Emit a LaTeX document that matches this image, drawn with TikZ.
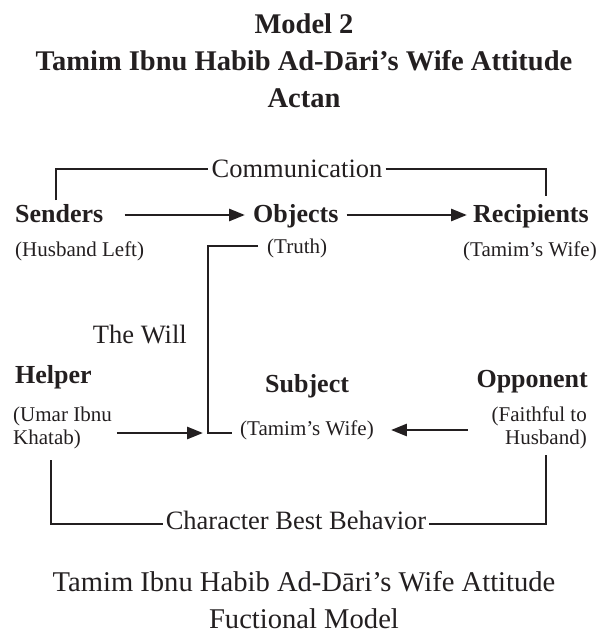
\documentclass[tikz,border=0pt]{standalone}
\usepackage{fontspec}
\setmainfont{Liberation Serif}
\usetikzlibrary{arrows.meta, positioning}
\definecolor{ink}{HTML}{231F20}
\tikzset{
  actant/.style={inner sep=0pt, text=ink, font=\fontsize{26}{30}\selectfont\bfseries},
  actnote/.style={inner sep=0pt, text=ink, font=\fontsize{21}{23}\selectfont},
  plain/.style={inner sep=0pt, text=ink, font=\fontsize{26.5}{30}\selectfont},
  heading/.style={inner sep=0pt, text=ink, align=center, font=\fontsize{28.5}{37}\selectfont\bfseries},
  caption/.style={inner sep=0pt, text=ink, align=center, font=\fontsize{28.6}{37}\selectfont},
  link/.style={draw=ink, line width=2.8pt},
  arr/.style={link, -{Triangle[length=16pt,width=12pt]}},
}

\begin{document}
\begin{tikzpicture}[x=1pt,y=-1pt]
  \useasboundingbox (0,0) rectangle (601,639);

  % title
  \node[heading, anchor=north] (title) at (304,14) {Model 2\\Tamim Ibnu Habib Ad-Dāri’s Wife Attitude\\Actan};

  % actants
  \node[actant, anchor=base west] (senders) at (15,222) {Senders};
  \node[actant, anchor=base west] (objects) at (253,222) {Objects};
  \node[actant, anchor=base west] (recipients) at (473,222) {Recipients};
  \node[actnote, anchor=base west] (husband) at (15,256) {(Husband Left)};
  \node[actnote, anchor=base west] (truth) at (267,253) {(Truth)};
  \node[actnote, anchor=base west] (wife) at (463,256) {(Tamim’s Wife)};

  \node[actant, anchor=base west] (helper) at (15,383) {Helper};
  \node[actant, anchor=base west] (subject) at (265,392) {Subject};
  \node[actant, anchor=base east] (opponent) at (588,387) {Opponent};
  \node[actnote, anchor=north west, align=left] (umar) at (13,407) {(Umar Ibnu\\Khatab)};
  \node[actnote, anchor=base west] (swife) at (240,435) {(Tamim’s Wife)};
  \node[actnote, anchor=north east, align=right] (faith) at (587,407) {(Faithful to\\Husband)};

  \node[plain, anchor=base east] (will) at (187,343) {The Will};
  \node[plain, inner xsep=3pt, anchor=base] (comm) at (297,178) {Communication};
  \node[plain, inner xsep=3pt, anchor=base] (behav) at (296,529) {Character Best Behavior};

  % caption
  \node[caption, anchor=south] (cap) at (304,629) {Tamim Ibnu Habib Ad-Dāri’s Wife Attitude\\Fuctional Model};

  % communication
  \coordinate (comml) at (56,200);
  \coordinate (commr) at (546,196);
  \draw[link] (comml) |- ([yshift=9pt]comm.base west);
  \draw[link] ([yshift=9pt]comm.base east) -| (commr);

  \draw[arr] ([xshift=21pt,yshift=7pt]senders.base east) -- ([xshift=-8pt,yshift=7pt]objects.base west);
  \draw[arr] ([xshift=8pt,yshift=7pt]objects.base east) -- ([xshift=-6pt,yshift=7pt]recipients.base west);

  % the will
  \coordinate (willc) at (208,433);
  \draw[link] ([xshift=-9pt,yshift=7pt]truth.base west) -| (willc) -- ([xshift=-8pt,yshift=2pt]swife.base west);

  \draw[arr] ([xshift=5pt]umar.east |- willc) -- ([xshift=-5pt]willc);
  \draw[arr] ([xshift=-24pt,yshift=5pt]faith.west |- swife.base) -- ([xshift=17pt,yshift=5pt]swife.base east);

  % character best behavior
  \coordinate (helperfoot) at (51,460);
  \coordinate (oppfoot) at (546,455);
  \draw[link] (helperfoot) |- ([yshift=5pt]behav.base west);
  \draw[link] ([yshift=5pt]behav.base east) -| (oppfoot);
\end{tikzpicture}
\end{document}
